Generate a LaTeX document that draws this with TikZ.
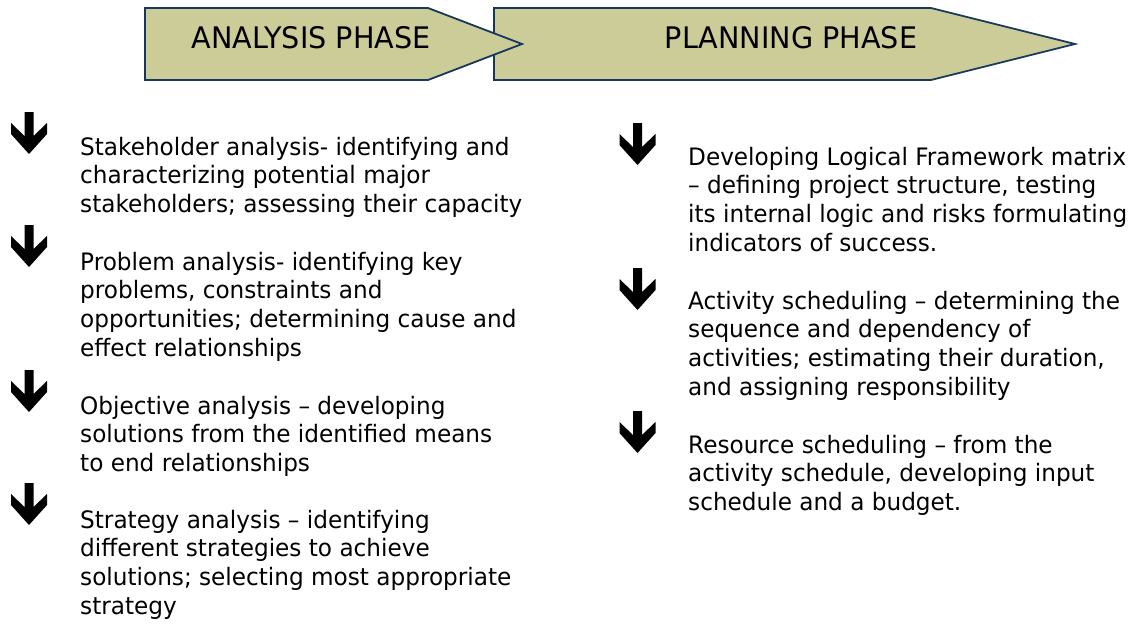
\documentclass[tikz,border=0pt]{standalone}
\usepackage{fontspec}
\setmainfont{DejaVu Sans}[FakeStretch=0.965]
\usepackage{xcolor}
\definecolor{phasefill}{RGB}{204,204,153}
\definecolor{phaseline}{RGB}{23,55,94}
\tikzstyle{phase} = [draw=phaseline, fill=phasefill, line width=1.8pt, line join=miter]
\tikzstyle{phasetext} = [anchor=base, inner sep=0pt, font=\fontsize{29.7}{34}\selectfont]
\tikzstyle{item} = [anchor=base west, align=left, inner sep=0pt, font=\fontsize{24}{28.7}\selectfont]
\tikzset{pics/downarrow/.style={code={
  \fill[black] (0,0) -- (18,-20) -- (18,-31) -- (4.5,-18) -- (4.5,-42)
    -- (-4.5,-42) -- (-4.5,-18) -- (-18,-31) -- (-18,-20) -- cycle;}}}

\begin{document}
\begin{tikzpicture}[x=1pt,y=-1pt]
  \useasboundingbox (0,0) rectangle (1136,629);
  % phase arrows
  \draw[phase] (494,8) -- (931,8) -- (1075,44) -- (931,80) -- (494,80) -- cycle;
  \draw[phase] (145,8) -- (428,8) -- (522,44) -- (428,80) -- (145,80) -- cycle;
  \node[phasetext] (analysis) at (311,48) {ANALYSIS PHASE};
  \node[phasetext] (planning) at (791,48) {PLANNING PHASE};

  % analysis steps (nodes sit on the baseline of their last line)
  \pic (A1) at (29,154) {downarrow};
  \node[item] (stake) at (80,212.4) {Stakeholder analysis- identifying and\\characterizing potential major\\stakeholders; assessing their capacity};
  \pic (A2) at (29,267) {downarrow};
  \node[item] (problem) at (80,356.1) {Problem analysis- identifying key\\problems, constraints and\\opportunities; determining cause and\\effect relationships};
  \pic (A3) at (29,412) {downarrow};
  \node[item] (objective) at (80,471.4) {Objective analysis – developing\\solutions from the identified means\\to end relationships};
  \pic (A4) at (29,525) {downarrow};
  \node[item] (strategy) at (80,614.1) {Strategy analysis – identifying\\different strategies to achieve\\solutions; selecting most appropriate\\strategy};

  % planning steps
  \pic (P1) at (637.5,165) {downarrow};
  \node[item] (logframe) at (688,251.1) {Developing Logical Framework matrix\\– defining project structure, testing\\its internal logic and risks formulating\\indicators of success.};
  \pic (P2) at (637.5,310) {downarrow};
  \node[item] (activity) at (688,395.1) {Activity scheduling – determining the\\sequence and dependency of\\activities; estimating their duration,\\and assigning responsibility};
  \pic (P3) at (637.5,453) {downarrow};
  \node[item] (resource) at (688,510.4) {Resource scheduling – from the\\activity schedule, developing input\\schedule and a budget.};
\end{tikzpicture}
\end{document}
